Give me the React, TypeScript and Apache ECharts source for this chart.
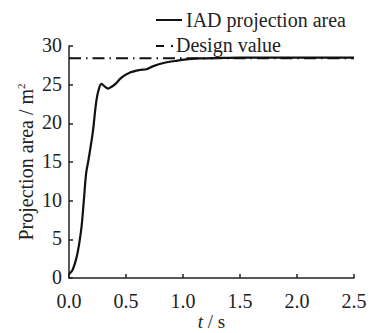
import React, { useEffect, useRef } from "react";
import * as echarts from "echarts";

const timeValues = [0, 0.03, 0.067, 0.09, 0.11, 0.13, 0.15, 0.17, 0.19, 0.21, 0.24, 0.265, 0.287, 0.31, 0.345, 0.37, 0.4, 0.46, 0.54, 0.62, 0.68, 0.74, 0.83, 0.95, 1.05, 1.15, 1.3, 1.5, 2.0, 2.5];
const areaValues = [0.5, 1.0, 2.7, 4.5, 6.6, 10, 13.5, 15.2, 17, 19, 22.9, 24.6, 25.1, 24.8, 24.5, 24.7, 25.0, 25.9, 26.6, 26.9, 27.0, 27.4, 27.8, 28.1, 28.3, 28.4, 28.45, 28.5, 28.5, 28.5];
const designTimes = [0, 2.5];
const designValue = 28.4;
const legendNames = ["IAD projection area", "Design value"];
const xTickValues = [0, 0.5, 1.0, 1.5, 2.0, 2.5];
const xTickLabels = ["0.0", "0.5", "1.0", "1.5", "2.0", "2.5"];
const yTickValues = [0, 5, 10, 15, 20, 25, 30];
const yTickLabels = ["0", "5", "10", "15", "20", "25", "30"];
const xAxisName = "t";
const xAxisUnit = " / s";
const yAxisName = "Projection area / m";
const yAxisSup = "2";

const FONT = "Liberation Serif";

export default function App() {
  const ref = useRef<HTMLDivElement>(null);
  useEffect(() => {
    if (!ref.current) return;
    const chart = echarts.init(ref.current, undefined, { renderer: "svg" });
    const axisCommon = {
      axisLine: { show: true, lineStyle: { color: "#222", width: 1.5 } },
      axisTick: { show: true, inside: true, length: 4, lineStyle: { color: "#222", width: 1.5 } },
      splitLine: { show: false },
      axisLabel: { show: false },
    };
    const legendGraphics = [
      { type: "line", shape: { x1: 156, y1: 20, x2: 182, y2: 20 }, style: { stroke: "#111", lineWidth: 2 } },
      { type: "text", x: 186, y: 20, style: { text: legendNames[0], fontFamily: FONT, fontSize: 20, fill: "#222", verticalAlign: "middle" } },
      { type: "line", shape: { x1: 156, y1: 46, x2: 164, y2: 46 }, style: { stroke: "#111", lineWidth: 2 } },
      { type: "circle", shape: { cx: 172, cy: 46, r: 1.2 }, style: { fill: "#111" } },
      { type: "text", x: 176, y: 45, style: { text: legendNames[1], fontFamily: FONT, fontSize: 20, fill: "#222", verticalAlign: "middle" } },
    ];
    chart.setOption({
      animation: false,
      backgroundColor: "#fff",
      textStyle: { fontFamily: FONT },
      grid: { left: 69, right: 21, top: 46, bottom: 55 },
      xAxis: { type: "value", min: 0, max: 2.5, interval: 0.5, ...axisCommon },
      yAxis: { type: "value", min: 0, max: 30, interval: 5, ...axisCommon },
      series: [
        {
          name: legendNames[1],
          type: "line",
          data: designTimes.map((t) => [t, designValue]),
          showSymbol: false,
          lineStyle: { color: "#111", width: 2, type: [12, 5, 1.5, 5] },
          z: 1,
        },
        {
          name: legendNames[0],
          type: "line",
          data: timeValues.map((t, i) => [t, areaValues[i]]),
          showSymbol: false,
          smooth: 0.3,
          lineStyle: { color: "#111", width: 2.2 },
          z: 2,
        },
      ],
    });

    const origin = chart.convertToPixel({ gridIndex: 0 }, [0, 0]) as number[];
    const top = chart.convertToPixel({ gridIndex: 0 }, [2.5, 30]) as number[];
    const xLabels = xTickValues.map((v, i) => {
      const p = chart.convertToPixel({ gridIndex: 0 }, [v, 0]) as number[];
      return {
        type: "text",
        x: p[0],
        y: p[1] + 23,
        style: { text: xTickLabels[i], fontFamily: FONT, fontSize: 20, fill: "#222", align: "center", verticalAlign: "middle" },
      };
    });
    const yLabels = yTickValues.map((v, i) => {
      const p = chart.convertToPixel({ gridIndex: 0 }, [0, v]) as number[];
      return {
        type: "text",
        x: p[0] - 7,
        y: p[1] - 1,
        style: { text: yTickLabels[i], fontFamily: FONT, fontSize: 20, fill: "#222", align: "right", verticalAlign: "middle" },
      };
    });
    const names = [
      {
        type: "text",
        x: (origin[0] + top[0]) / 2,
        y: origin[1] + 43,
        style: {
          text: "{i|" + xAxisName + "}{n|" + xAxisUnit + "}",
          align: "center",
          verticalAlign: "middle",
          rich: {
            i: { fontFamily: FONT, fontStyle: "italic", fontSize: 19, fill: "#222" },
            n: { fontFamily: FONT, fontSize: 19, fill: "#222" },
          },
        },
      },
      {
        type: "text",
        x: 26,
        y: (origin[1] + top[1]) / 2,
        rotation: Math.PI / 2,
        style: {
          text: "{n|" + yAxisName + "}{s|" + yAxisSup + "}",
          align: "center",
          verticalAlign: "middle",
          rich: {
            n: { fontFamily: FONT, fontSize: 20, fill: "#222", lineHeight: 22 },
            s: { fontFamily: FONT, fontSize: 11, fill: "#222", verticalAlign: "top", lineHeight: 22 },
          },
        },
      },
    ];
    chart.setOption({ graphic: [...legendGraphics, ...xLabels, ...yLabels, ...names] });
    return () => chart.dispose();
  }, []);
  return <div ref={ref} style={{ width: 375, height: 333, position: "absolute", left: 0, top: 0 }} />;
}
